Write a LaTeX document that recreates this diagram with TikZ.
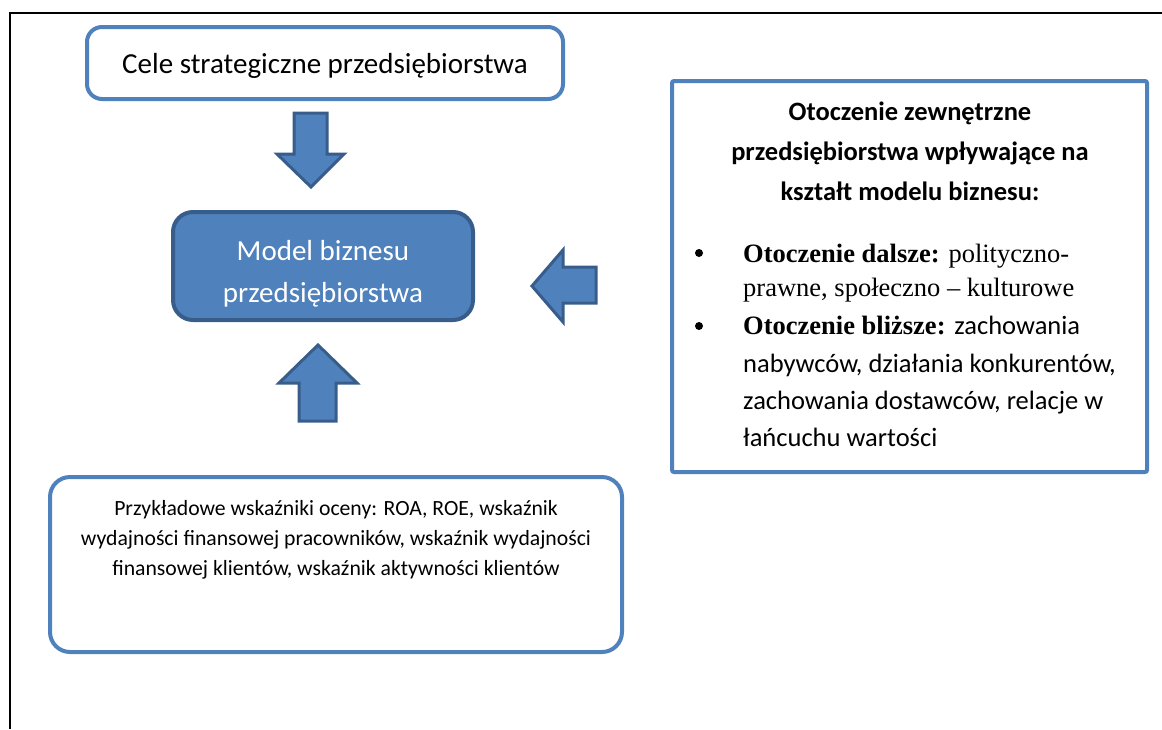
\documentclass[tikz,border=0pt]{standalone}
\usepackage{fontspec}
\setmainfont{Liberation Serif}
\newfontfamily\calibri{Carlito}
\definecolor{accent}{HTML}{4F81BD}
\definecolor{accentdark}{HTML}{385D8A}
\begin{document}
\begin{tikzpicture}[x=1pt,y=-1pt,
  lightbox/.style={draw=accent, line width=4pt, fill=white, inner sep=0pt},
  darkbox/.style={draw=accentdark, line width=4pt, fill=accent, inner sep=0pt, rounded corners=20pt},
  blockarrow/.style={draw=accentdark, line width=3pt, fill=accent, line join=miter},
  bigtxt/.style={font=\calibri\fontsize{29}{42}\selectfont, align=center},
  bodytxt/.style={anchor=base west, inner sep=0pt, font=\fontsize{26.5}{37}\selectfont},
  headtxt/.style={anchor=base, inner sep=0pt, font=\calibri\bfseries\fontsize{26.5}{40}\selectfont},
  smalltxt/.style={anchor=base, inner sep=0pt, font=\calibri\fontsize{21.7}{30}\selectfont},
  bulletdot/.style={circle, fill=black, inner sep=0pt, minimum size=8pt}
]
\useasboundingbox (0,0) rectangle (1162,729);
% frame
\coordinate (frTL) at (10,13);
\coordinate (frTR) at (1162,13);
\coordinate (frBL) at (10,729);
\draw[line width=2.8pt] (frTR) -- (frTL) -- (frBL);

% top box
\node[lightbox, rounded corners=15pt, minimum width=476pt, minimum height=72pt] (cele) at (325,63) {};
\node[anchor=base, inner sep=0pt, font=\calibri\fontsize{29}{42}\selectfont] (celetxt) at (325,73) {Cele strategiczne przedsiębiorstwa};

% model box
\node[darkbox, minimum width=300pt, minimum height=108pt] (model) at (323,266) {};
\node[anchor=base, inner sep=0pt, text=white, font=\calibri\fontsize{29}{42}\selectfont] (m1) at (323,260) {Model biznesu};
\node[anchor=base, inner sep=0pt, text=white, font=\calibri\fontsize{29}{42}\selectfont] (m2) at (323,302) {przedsiębiorstwa};

% down arrow
\draw[blockarrow] (294,113) -- (327,113) -- (327,154) -- (344,154) -- (311,187) -- (277,154) -- (294,154) -- cycle;
% up arrow
\draw[blockarrow] (299,421) -- (336,421) -- (336,383) -- (357,383) -- (318,345) -- (279,383) -- (299,383) -- cycle;
% left arrow
\draw[blockarrow] (596,267) -- (563,267) -- (563,250) -- (532,286) -- (563,322) -- (563,303) -- (596,303) -- cycle;

% right box
\node[lightbox, rounded corners=2pt, minimum width=475pt, minimum height=391pt] (env) at (909.5,276.5) {};
\node[headtxt] (h1) at (910,120) {Otoczenie zewnętrzne};
\node[headtxt] (h2) at (910,160) {przedsiębiorstwa wpływające na};
\node[headtxt] (h3) at (910,200) {kształt modelu biznesu:};

\node[bulletdot] (b1) at (699,253) {};
\node[bulletdot] (b2) at (699,326) {};
\node[bodytxt] (l1) at (743,262) {\textbf{Otoczenie dalsze:} polityczno-};
\node[bodytxt] (l2) at (743,296) {prawne, społeczno – kulturowe};
\node[bodytxt] (l3) at (743,334) {\textbf{Otoczenie bliższe:} {\calibri zachowania}};
\node[bodytxt, font=\calibri\fontsize{26.5}{37}\selectfont] (l4) at (743,372) {nabywców, działania konkurentów,};
\node[bodytxt, font=\calibri\fontsize{26.5}{37}\selectfont] (l5) at (743,409) {zachowania dostawców, relacje w};
\node[bodytxt, font=\calibri\fontsize{26.5}{37}\selectfont] (l6) at (743,446) {łańcuchu wartości};

% bottom box
\node[lightbox, rounded corners=20pt, minimum width=572pt, minimum height=175pt] (ind) at (336,564.5) {};
\node[smalltxt] (t1) at (336,515) {Przykładowe wskaźniki oceny: ROA, ROE, wskaźnik};
\node[smalltxt] (t2) at (336,545) {wydajności finansowej pracowników, wskaźnik wydajności};
\node[smalltxt] (t3) at (336,575) {finansowej klientów, wskaźnik aktywności klientów};
\end{tikzpicture}
\end{document}
